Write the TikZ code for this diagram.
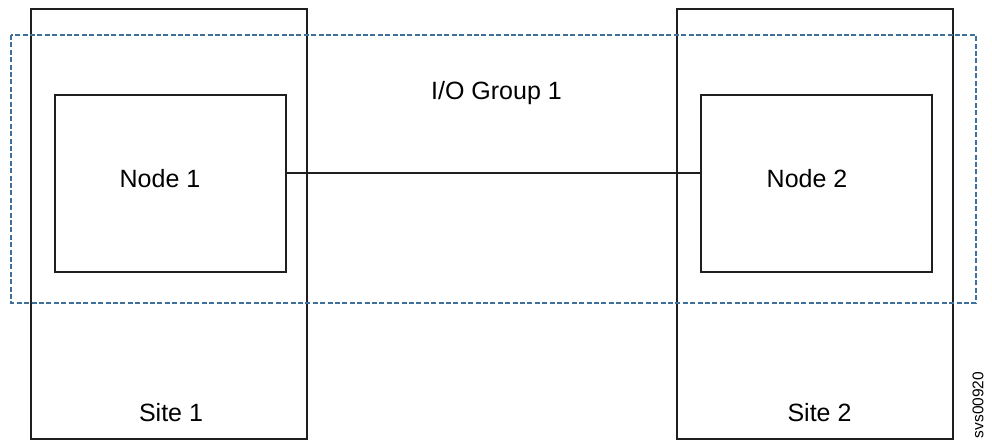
\documentclass[tikz,border=0pt]{standalone}
\usepackage{fontspec}
\setmainfont{Liberation Sans}
\definecolor{grpblue}{RGB}{62,112,155}
\begin{document}
\begin{tikzpicture}[x=1pt,y=-1pt,
  sitebox/.style={draw=black!88,line width=2.6pt},
  nodebox/.style={draw=black!88,line width=2.6pt},
  grpbox/.style={draw=grpblue,line width=2.6pt,dash pattern=on 5pt off 2.4pt},
  lbl/.style={font=\fontsize{25}{29}\selectfont,inner sep=0pt}]
\useasboundingbox (0,0) rectangle (992,441);
\draw[sitebox] (31,9) rectangle (307,439);
\draw[sitebox] (677,9) rectangle (953,439);
\node[lbl] (s1) at (171,413) {Site 1};
\node[lbl] (s2) at (819.5,413) {Site 2};
\draw[nodebox] (55,95) rectangle (286,272);
\draw[nodebox] (701,95) rectangle (932,272);
\coordinate (n1r) at (286,173);
\coordinate (n2l) at (701,173);
\node[lbl] (n1) at (160,179) {Node 1};
\node[lbl] (n2) at (807,179) {Node 2};
\draw[line width=2.6pt,black!88] (n1r) -- (n2l);
\draw[grpbox] (11,35) rectangle (976,303);
\node[lbl,anchor=base] (g) at (496.5,100) {I/O Group 1};
\node[font=\fontsize{15.5}{18}\selectfont,inner sep=0pt,rotate=90] (id) at (978,405) {svs00920};
\end{tikzpicture}
\end{document}
